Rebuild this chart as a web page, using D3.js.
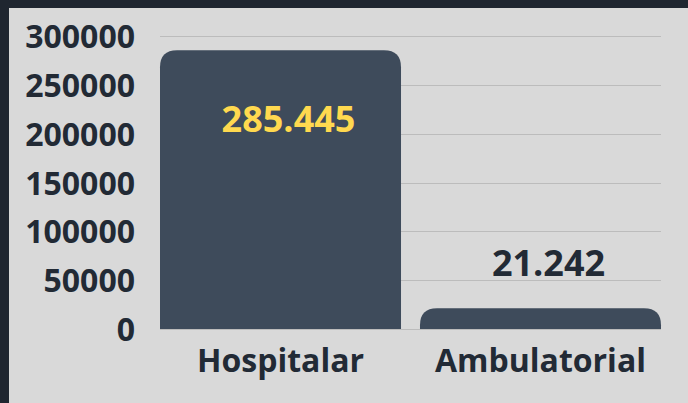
<!DOCTYPE html>
<html>
<head>
<meta charset="utf-8">
<script src="https://cdn.jsdelivr.net/npm/d3@7"></script>
<style>
  html, body { margin: 0; padding: 0; background: #1f2630; }
  .canvas { position: absolute; left: 9px; top: 8px; width: 679px; height: 395px; background: #d9d9d9; }
  svg { display: block; font-family: "Open Sans", sans-serif; font-weight: 700; }
</style>
</head>
<body>
<div class="canvas"></div>
<script>
// data
const categories = ["Hospitalar", "Ambulatorial"]
const values = [285445, 21242]
const valueLabels = ["285.445", "21.242"]
const yTicks = [0, 50000, 100000, 150000, 200000, 250000, 300000]

/**
 * Dimensions (svg is offset by the dark frame: 9 left, 8 top)
 */
const offX = 9, offY = 8
const width = 679, height = 395

const svg = d3.select(".canvas")
    .append("svg")
    .attr("width", width)
    .attr("height", height)

const graph = svg.append("g")
    .attr("transform", `translate(${-offX},${-offY})`)

/**
 * Scales
 */
const x = d3.scaleBand()
    .domain(categories)
    .range([160, 661])
    .paddingInner(0.073)
    .paddingOuter(0)

const y = d3.scaleLinear()
    .domain([0, 300000])
    .range([329, 36])

// gridlines
graph.append("g")
    .selectAll("line")
    .data(yTicks)
    .enter()
    .append("line")
        .attr("x1", 160)
        .attr("x2", 661)
        .attr("y1", d => Math.round(y(d)) + 0.5)
        .attr("y2", d => Math.round(y(d)) + 0.5)
        .attr("stroke", "#bcbcbc")
        .attr("stroke-width", 1)

// y axis labels
const yAxis = d3.axisLeft(y)
    .tickValues(yTicks)
    .tickSize(0)
    .tickPadding(0)
    .tickFormat(d => d)
const yAxisGroup = graph.append("g")
    .attr("transform", "translate(135,0)")
    .call(yAxis)
yAxisGroup.select(".domain").remove()
yAxisGroup.selectAll("text")
    .attr("fill", "#222a35")
    .style("font-size", "32px")
    .style("font-family", "'Open Sans', sans-serif")
    .style("font-weight", 700)
    .attr("dy", "0.36em")

// bars with rounded top corners
const r = 17
const barPath = (x0, w, yTop, yBase) => {
    const rr = Math.min(r, (yBase - yTop), w / 2)
    return `M${x0},${yBase}V${yTop + rr}Q${x0},${yTop} ${x0 + rr},${yTop}` +
        `H${x0 + w - rr}Q${x0 + w},${yTop} ${x0 + w},${yTop + rr}V${yBase}Z`
}

graph.selectAll("path.bar")
    .data(values)
    .enter()
    .append("path")
        .attr("class", "bar")
        .attr("fill", "#3e4b5b")
        .attr("d", (d, i) => barPath(x(categories[i]), x.bandwidth(), y(d), y(0)))

// value labels: inside tall bars, above short ones (slightly right of centre)
graph.selectAll("text.value")
    .data(values)
    .enter()
    .append("text")
        .attr("class", "value")
        .attr("text-anchor", "middle")
        .attr("x", (d, i) => x(categories[i]) + x.bandwidth() / 2 + 8)
        .attr("y", d => (y(0) - y(d) > 100) ? y(d) + 82 : y(d) - 32)
        .attr("fill", d => (y(0) - y(d) > 100) ? "#ffd94f" : "#222a35")
        .style("font-size", "36px")
        .text((d, i) => valueLabels[i])

// x axis labels
const xAxis = d3.axisBottom(x).tickSize(0).tickPadding(0)
const xAxisGroup = graph.append("g")
    .attr("transform", "translate(0,372)")
    .call(xAxis)
xAxisGroup.select(".domain").remove()
xAxisGroup.selectAll("text")
    .attr("fill", "#222a35")
    .attr("dy", 0)
    .style("font-size", "32px")
    .style("font-family", "'Open Sans', sans-serif")
    .style("font-weight", 700)
</script>
</body>
</html>
